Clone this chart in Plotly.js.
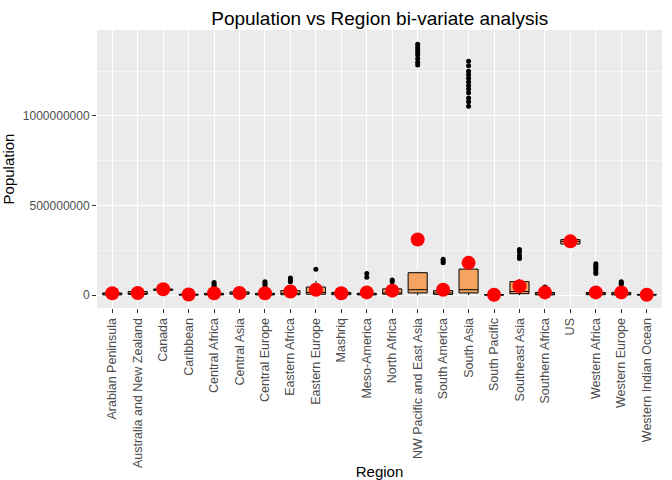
<!DOCTYPE html>
<html>
<head>
<meta charset="utf-8">
<script src="https://cdn.plot.ly/plotly-3.0.1.min.js"></script>
<style>body{margin:0;}#chart{width:672px;height:480px;}</style>
</head>
<body>
<div id="chart"></div>
<script>
// box stats in people
const regions = ['Arabian Peninsula','Australia and New Zealand','Canada','Caribbean','Central Africa','Central Asia','Central Europe','Eastern Africa','Eastern Europe','Mashriq','Meso-America','North Africa','NW Pacific and East Asia','South America','South Asia','South Pacific','Southeast Asia','Southern Africa','US','Western Africa','Western Europe','Western Indian Ocean'];
const q1 =     [1e6, 4e6, 27e6, 0.2e6, 1e6, 5e6, 1e6, 2e6, 5e6, 2e6, 1e6, 5e6, 12e6, 4e6, 12e6, 0.1e6, 8e6, 1e6, 285e6, 2e6, 1e6, 0.3e6];
const median = [3e6, 10e6, 30e6, 1e6, 4e6, 8e6, 4e6, 10e6, 15e6, 6e6, 5e6, 12e6, 30e6, 12e6, 30e6, 0.5e6, 20e6, 4e6, 300e6, 6e6, 6e6, 1e6];
const q3 =     [12e6, 20e6, 34e6, 5e6, 10e6, 18e6, 10e6, 25e6, 45e6, 15e6, 10e6, 35e6, 125e6, 25e6, 145e6, 3e6, 75e6, 15e6, 310e6, 15e6, 15e6, 4e6];
const lowFence = [0, 1e6, 24e6, 0, 0, 2e6, 0, 0, 0, 0, 0, 0, 0, 0, 0, 0, 0, 0, 280e6, 0, 0, 0];
const highFence = [20e6, 25e6, 36e6, 8e6, 18e6, 22e6, 18e6, 40e6, 80e6, 22e6, 18e6, 55e6, 130e6, 35e6, 150e6, 5e6, 90e6, 25e6, 318e6, 25e6, 25e6, 6e6];
const means = [10e6, 12e6, 33e6, 3e6, 10e6, 12e6, 10e6, 20e6, 30e6, 10e6, 15e6, 25e6, 310e6, 30e6, 180e6, 2e6, 50e6, 15e6, 300e6, 15e6, 15e6, 2e6];

const outlierRegion = ['Central Africa','Central Africa','Central Africa','Central Europe','Central Europe','Central Europe','Eastern Africa','Eastern Africa','Eastern Africa','Eastern Europe','Meso-America','Meso-America','North Africa','North Africa',
  'NW Pacific and East Asia','NW Pacific and East Asia','NW Pacific and East Asia','NW Pacific and East Asia','NW Pacific and East Asia','NW Pacific and East Asia','NW Pacific and East Asia','NW Pacific and East Asia',
  'South America','South America','South America',
  'South Asia','South Asia','South Asia','South Asia','South Asia','South Asia','South Asia','South Asia','South Asia','South Asia','South Asia','South Asia',
  'Southeast Asia','Southeast Asia','Southeast Asia','Southeast Asia','Southern Africa','Southern Africa',
  'Western Africa','Western Africa','Western Africa','Western Africa','Western Africa','Western Africa','Western Europe','Western Europe','Western Europe'];
const outlierValue = [50e6,60e6,70e6,55e6,65e6,75e6,75e6,85e6,95e6,145e6,100e6,120e6,75e6,85e6,
  1285e6,1300e6,1320e6,1340e6,1355e6,1370e6,1385e6,1400e6,
  180e6,190e6,200e6,
  1055e6,1080e6,1100e6,1130e6,1150e6,1170e6,1190e6,1210e6,1230e6,1250e6,1280e6,1305e6,
  205e6,220e6,240e6,255e6,40e6,45e6,
  120e6,130e6,145e6,155e6,165e6,175e6,60e6,68e6,75e6];

const traces = [
  {type: 'box', x: regions, q1: q1, median: median, q3: q3, lowerfence: lowFence, upperfence: highFence,
   boxpoints: false, fillcolor: '#F4A460', line: {color: '#000', width: 1}, whiskerwidth: 0, width: 0.75, hoverinfo: 'none'},
  {type: 'scatter', mode: 'markers', x: outlierRegion, y: outlierValue, marker: {color: '#000', size: 5}},
  {type: 'scatter', mode: 'markers', x: regions, y: means, marker: {color: '#FF0000', size: 14}}
];

Plotly.newPlot('chart', traces, {
  width: 672, height: 480, showlegend: false,
  margin: {l: 97, r: 10, t: 30, b: 172},
  paper_bgcolor: '#fff', plot_bgcolor: '#EBEBEB',
  font: {family: 'Liberation Sans, Arial', color: '#4D4D4D', size: 12},
  title: {text: 'Population vs Region bi-variate analysis', x: 0.565, y: 0.975, font: {size: 19, color: '#000'}},
  xaxis: {title: {text: 'Region', font: {size: 15, color: '#000'}, standoff: 8}, tickangle: -90, gridcolor: '#fff',
          showgrid: true, zeroline: false, ticks: 'outside', ticklen: 4, tickcolor: '#333', automargin: false,
          tickfont: {size: 12.5}, range: [-0.6, 21.6]},
  yaxis: {title: {text: 'Population', font: {size: 15, color: '#000'}, standoff: 6}, range: [-72e6, 1480e6], tickvals: [0, 5e8, 1e9],
          tickformat: 'd', gridcolor: '#fff', zeroline: false, ticks: 'outside', ticklen: 4, tickcolor: '#333', automargin: false,
          minor: {tickvals: [2.5e8, 7.5e8, 1.25e9], showgrid: true, gridcolor: '#F5F5F5'}}
}, {staticPlot: true});
</script>
</body>
</html>
